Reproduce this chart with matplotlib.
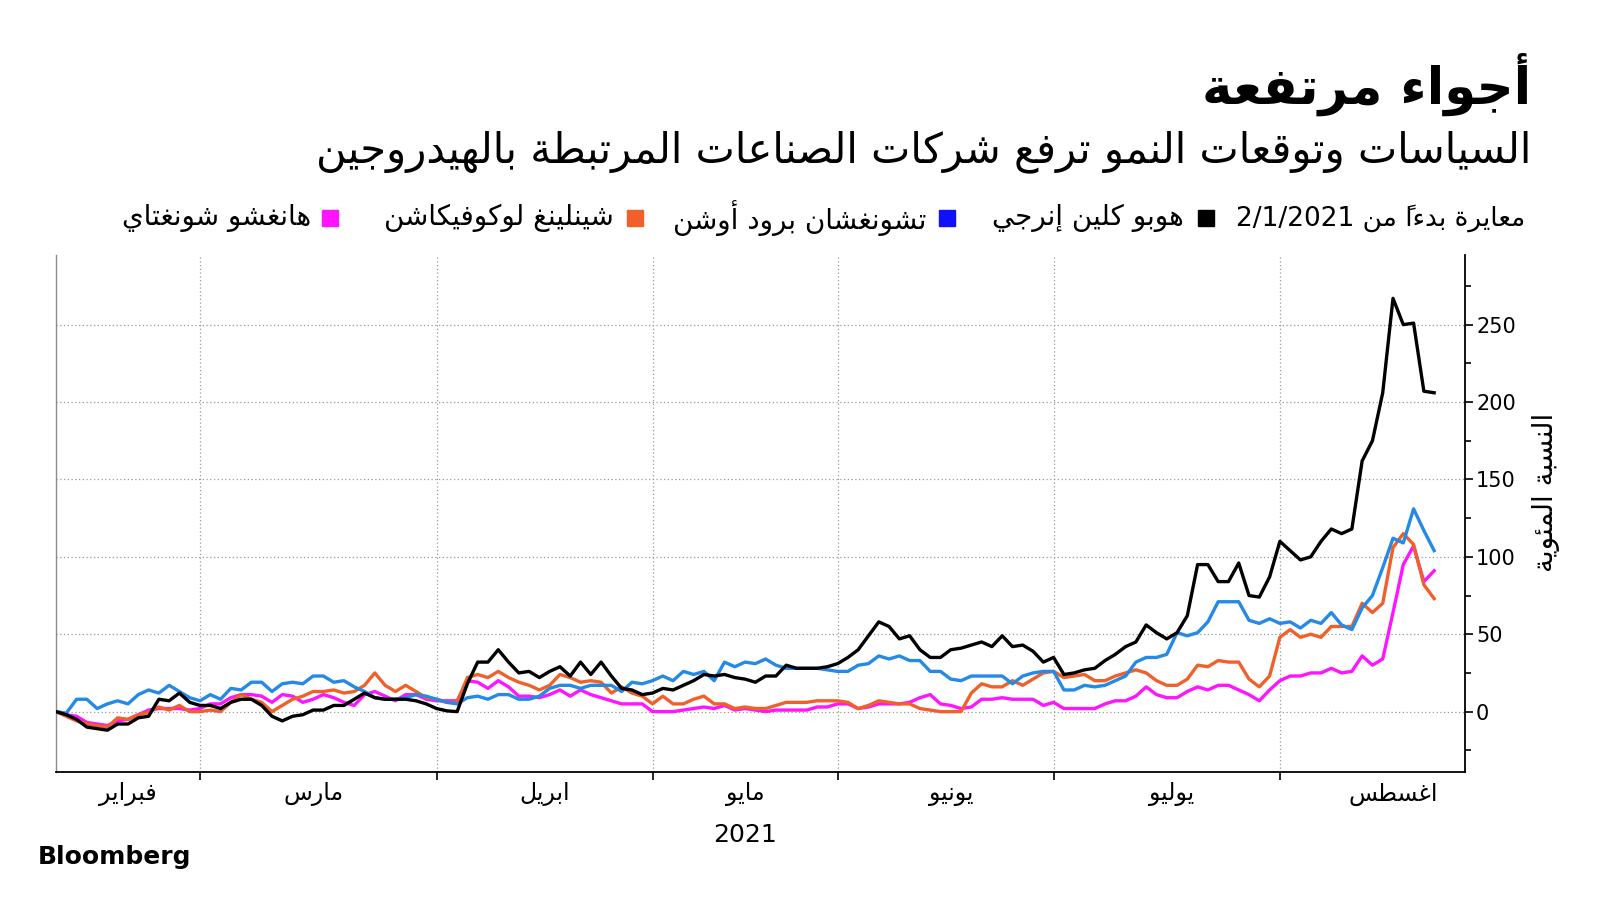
import re
import matplotlib
matplotlib.use("Agg")
import matplotlib.pyplot as plt
from matplotlib.patches import Rectangle

# ---- data (rebased to 0 on 1 Feb 2021, one point per trading day) ----
black = [0, -2, -5, -10, -11, -12, -8, -8, -4, -3,
         8, 7, 12, 6, 4,
         4, 2, 6, 8, 8, 4, -3, -6, -3, -2,
         1, 1, 4, 4, 8, 12, 9, 8, 8, 8,
         7, 5, 2, 0.5, 0,
         18, 32, 32, 40, 32, 25, 26, 22, 26, 29,
         23, 32, 24, 32, 23, 15, 14, 11, 12, 15,
         14, 17, 20, 24, 23, 24, 22, 21, 19, 23,
         23, 30, 28, 28, 28, 29, 31, 35, 40, 49,
         58, 55, 47, 49, 40, 35, 35, 40, 41, 43,
         45, 42, 49, 42, 43, 39, 32, 35, 24, 25,
         27, 28, 33, 37, 42, 45, 56, 51, 47, 51,
         62, 95, 95, 84, 84, 96, 75, 74, 87, 110,
         104, 98, 100, 110, 118, 115, 118, 162, 175, 206,
         267, 250, 251, 207, 206]
blue = [0, -1, 8, 8, 2, 5, 7, 5, 11, 14,
        12, 17, 13, 9, 7,
        11, 8, 15, 14, 19, 19, 13, 18, 19, 18,
        23, 23, 19, 20, 16, 13, 9, 8, 8, 9,
        11, 10, 8, 6, 5,
        9, 10, 8, 11, 11, 8, 8, 10, 15, 17,
        17, 15, 17, 17, 17, 13, 19, 18, 20, 23,
        20, 26, 24, 26, 20, 32, 29, 32, 31, 34,
        30, 28, 28, 28, 28, 27, 26, 26, 30, 31,
        36, 34, 36, 33, 33, 26, 26, 21, 20, 23,
        23, 23, 23, 18, 23, 25, 26, 26, 14, 14,
        17, 16, 17, 20, 23, 32, 35, 35, 37, 51,
        49, 51, 58, 71, 71, 71, 59, 57, 60, 57,
        58, 54, 59, 57, 64, 56, 53, 67, 75, 93,
        112, 109, 131, 117, 104]
orange = [0, -3, -6, -8, -9, -10, -4, -5, -2, -0.5,
          3, 1, 4, 0, 0,
          1, 0, 6, 11, 8, 6, 0, 4, 8, 10,
          13, 13, 14, 12, 13, 17, 25, 17, 13, 17,
          13, 9, 8, 6, 6,
          22, 24, 22, 26, 22, 19, 17, 14, 17, 24,
          22, 19, 20, 19, 12, 16, 12, 10, 5, 10,
          5, 5, 8, 10, 5, 5, 2, 3, 2, 2,
          4, 6, 6, 6, 7, 7, 7, 6, 2, 4,
          7, 6, 5, 5, 2, 1, 0, 0, 0, 12,
          18, 16, 16, 20, 17, 21, 25, 26, 22, 23,
          24, 20, 20, 23, 25, 27, 25, 20, 17, 17,
          21, 30, 29, 33, 32, 32, 21, 16, 23, 48,
          53, 48, 50, 48, 55, 55, 55, 70, 64, 70,
          106, 115, 108, 82, 73]
magenta = [0, -2, -3, -7, -8, -9, -6, -5, -2, 1,
           2, 2, 2, 1, 2,
           5, 5, 9, 11, 11, 10, 6, 11, 10, 6,
           8, 11, 9, 6, 4, 11, 13, 10, 7, 11,
           11, 8, 7, 7, 7,
           20, 19, 15, 20, 16, 10, 10, 9, 11, 14,
           10, 14, 11, 9, 7, 5, 5, 5, 0, 0,
           0, 1, 2, 3, 2, 4, 1, 2, 1, 0,
           1, 1, 1, 1, 3, 3, 5, 5, 2, 3,
           5, 5, 5, 6, 9, 11, 5, 4, 2, 3,
           8, 8, 9, 8, 8, 8, 4, 6, 2, 2,
           2, 2, 5, 7, 7, 10, 16, 11, 9, 9,
           13, 16, 14, 17, 17, 14, 11, 7, 14, 20,
           23, 23, 25, 25, 28, 25, 26, 36, 30, 34,
           64, 95, 107, 84, 91]

names = ["هوبو كلين إنرجي", "تشونغشان برود أوشن", "شينلينغ لوكوفيكاشن", "هانغشو شونغتاي"]
line_colors = ["#000000", "#2589e6", "#f0602a", "#ff14ff"]
key_colors = ["#000000", "#1010ff", "#f0602a", "#ff14ff"]

months = ["فبراير", "مارس", "ابريل", "مايو", "يونيو", "يوليو", "اغسطس"]
month_mid = [7, 25, 47.5, 67, 87, 108.5, 130]   # label positions (trading-day index)
month_edge = [14, 37, 58, 76, 97, 119]          # last trading day of each month
yticks = [0, 50, 100, 150, 200, 250]

title = "أجواء مرتفعة"
subtitle = "السياسات وتوقعات النمو ترفع شركات الصناعات المرتبطة بالهيدروجين"
legend_note = "معايرة بدءاً من 2/1/2021"
ylabel = "النسبة المئوية"


# ---- minimal Arabic shaping + right-to-left ordering ----
FOUR = {'ئ': 0xFE89, 'ب': 0xFE8F, 'ت': 0xFE95, 'ث': 0xFE99, 'ج': 0xFE9D, 'ح': 0xFEA1,
        'خ': 0xFEA5, 'س': 0xFEB1, 'ش': 0xFEB5, 'ص': 0xFEB9, 'ض': 0xFEBD, 'ط': 0xFEC1,
        'ظ': 0xFEC5, 'ع': 0xFEC9, 'غ': 0xFECD, 'ف': 0xFED1, 'ق': 0xFED5, 'ك': 0xFED9,
        'ل': 0xFEDD, 'م': 0xFEE1, 'ن': 0xFEE5, 'ه': 0xFEE9, 'ي': 0xFEF1}
TWO = {'آ': 0xFE81, 'أ': 0xFE83, 'ؤ': 0xFE85, 'إ': 0xFE87, 'ا': 0xFE8D, 'ة': 0xFE93,
       'د': 0xFEA9, 'ذ': 0xFEAB, 'ر': 0xFEAD, 'ز': 0xFEAF, 'و': 0xFEED, 'ى': 0xFEEF}
ONE = {'ء': 0xFE80}
LAMALEF = {'آ': 0xFEF5, 'أ': 0xFEF7, 'إ': 0xFEF9, 'ا': 0xFEFB}
MARKS = set(chr(c) for c in range(0x064B, 0x0653))


def shape_rtl(s):
    units = []  # [base, marks]
    i = 0
    while i < len(s):
        c = s[i]
        if c in MARKS and units:
            units[-1][1] += c
        elif c == 'ل' and i + 1 < len(s) and s[i + 1] in LAMALEF:
            units.append(['LA' + s[i + 1], ''])
            i += 1
        else:
            units.append([c, ''])
        i += 1

    def right_joining(b):
        return b in FOUR or b in TWO or b.startswith('LA')

    glyphs = []
    for k, (b, m) in enumerate(units):
        prev = units[k - 1][0] if k > 0 else None
        nxt = units[k + 1][0] if k + 1 < len(units) else None
        jp = prev in FOUR and right_joining(b)
        jn = b in FOUR and nxt is not None and right_joining(nxt)
        if b.startswith('LA'):
            g = chr(LAMALEF[b[2]] + (1 if jp else 0))
        elif b in FOUR:
            g = chr(FOUR[b] + (3 if jp and jn else 1 if jp else 2 if jn else 0))
        elif b in TWO:
            g = chr(TWO[b] + (1 if jp else 0))
        elif b in ONE:
            g = chr(ONE[b])
        else:
            g = b
        # mark first: it has no advance and sits over the glyph drawn after it
        glyphs.append(m + g)
    return ''.join(reversed(glyphs))


def ar(text):
    runs = re.findall(r'[0-9A-Za-z/.,%]+|[^0-9A-Za-z/.,%]+', text)
    out = [r if re.match(r'[0-9A-Za-z/.,%]', r) else shape_rtl(r) for r in runs]
    return ''.join(reversed(out))


# ---- figure ----
W, H = 1600, 900
fig = plt.figure(figsize=(16, 9), dpi=100)
ax = fig.add_axes([56 / W, 1 - 772 / H, (1465 - 56) / W, (772 - 255) / H])

x = list(range(len(black)))
ax.plot(x, magenta, color=line_colors[3], lw=2.4, zorder=3)
ax.plot(x, orange, color=line_colors[2], lw=2.4, zorder=4)
ax.plot(x, blue, color=line_colors[1], lw=2.4, zorder=5)
ax.plot(x, black, color=line_colors[0], lw=2.4, zorder=6)

ax.set_xlim(0, 137)
ax.set_ylim(-39, 295)

ax.yaxis.tick_right()
ax.set_yticks(yticks)
ax.set_yticklabels([str(v) for v in yticks], fontsize=15, family="DejaVu Sans")
ax.set_yticks([v + 25 for v in [-50] + yticks], minor=True)
ax.tick_params(axis="y", which="major", direction="out", length=6, width=1.2, pad=2)
ax.tick_params(axis="y", which="minor", direction="out", length=4, width=1.2)
for v in yticks:
    ax.axhline(v, color="#9a9a9a", lw=0.9, ls=(0, (1, 2)), zorder=1)

ax.set_xticks(month_edge)
ax.set_xticklabels([])
ax.tick_params(axis="x", direction="out", length=6, width=1.2)
for e in month_edge:
    ax.axvline(e, color="#9a9a9a", lw=0.9, ls=(0, (1, 2)), zorder=1)
for m, xm in zip(months, month_mid):
    ax.text(xm, -0.02, ar(m), transform=ax.get_xaxis_transform(), ha="center", va="top",
            fontsize=17, family="DejaVu Sans")

ax.spines["top"].set_visible(False)
ax.spines["left"].set_color("#8c8c8c")
ax.spines["left"].set_linewidth(1.0)
ax.spines["right"].set_linewidth(1.3)
ax.spines["bottom"].set_linewidth(1.3)

# ---- texts ----
fig.text(1531 / W, 1 - 84 / H, ar(title), ha="right", va="center", fontsize=37,
         fontweight="bold", family="DejaVu Sans")
fig.text(1531 / W, 1 - 152 / H, ar(subtitle), ha="right", va="center", fontsize=30,
         family="DejaVu Sans")

fig.text(1525 / W, 1 - 218 / H, ar(legend_note), ha="right", va="center", fontsize=19,
         family="DejaVu Sans")
sq_x = [1206, 947, 635, 330]
txt_x = [1184, 926, 614, 311]
for name, col, sx, tx in zip(names, key_colors, sq_x, txt_x):
    fig.patches.append(Rectangle(((sx - 8) / W, 1 - (218 + 8) / H), 16 / W, 16 / H,
                                 transform=fig.transFigure, color=col, figure=fig))
    fig.text(tx / W, 1 - 218 / H, ar(name), ha="right", va="center", fontsize=20,
             family="DejaVu Sans")

fig.text(1546 / W, 1 - 492 / H, ar(ylabel), ha="center", va="center", rotation=90,
         fontsize=20, family="DejaVu Sans")
fig.text(745 / W, 1 - 835 / H, "2021", ha="center", va="center", fontsize=18,
         family="DejaVu Sans")
fig.text(38 / W, 1 - 857 / H, "Bloomberg", ha="left", va="center", fontsize=18,
         fontweight="bold", family="DejaVu Sans")

fig.savefig("out.png", dpi=100, facecolor="white")
